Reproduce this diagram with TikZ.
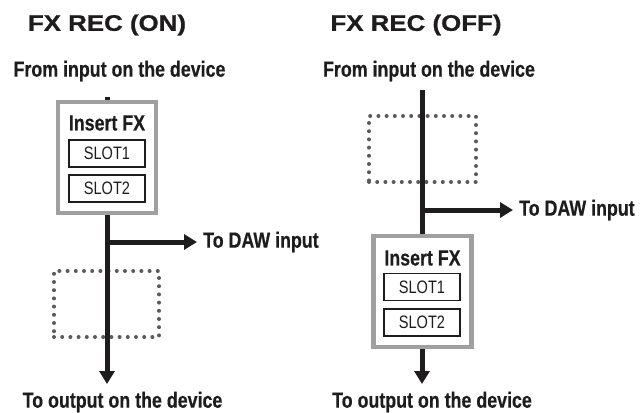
\documentclass[tikz,border=0pt]{standalone}
\usepackage{xcolor}
\usepackage{fontspec}
\usepackage{tikz}
\usetikzlibrary{arrows.meta,positioning}
\setmainfont{Liberation Sans}
\newfontfamily\narrowfont[FakeStretch=0.81,BoldFeatures={FakeBold=0.4}]{Liberation Sans}
\newfontfamily\widefont[FakeStretch=1.15,BoldFeatures={FakeBold=0.8}]{Liberation Sans}
\definecolor{inkBlk}  {RGB}{ 30,  28,  29}
\definecolor{boxGray} {RGB}{160, 160, 160}
\definecolor{dotGray} {RGB}{ 90,  90,  90}

\begin{document}
\begin{tikzpicture}[x=1pt,y=-1pt,
        ttl/.style={font=\widefont\bfseries\fontsize{22.5}{24}\selectfont,text=inkBlk,inner sep=0pt},
        lbl/.style={font=\narrowfont\bfseries\fontsize{22}{24}\selectfont,text=inkBlk,inner sep=0pt},
        fxbox/.style={draw=boxGray,fill=white,line width=4.5pt,
                      minimum width=98pt,minimum height=111pt,inner sep=0pt},
        slotbox/.style={draw=inkBlk,fill=white,line width=1.3pt,minimum width=76pt,minimum height=27pt,
                        inner sep=0pt,font=\narrowfont\fontsize{18}{19}\selectfont,text=inkBlk},
        gap/.style={draw=dotGray,line width=4pt,line cap=round,dash pattern=on 0pt off 8.2pt,
                    minimum width=105pt,minimum height=66pt,inner sep=0pt},
        sig/.style={draw=inkBlk,line width=5pt},
        sigarr/.style={sig,-{Triangle[length=13pt,width=15pt]}}]

        \useasboundingbox (0,0) rectangle (642,412);

        % FX REC (ON)
        \node[ttl] (tA) at (107,25) {FX REC (ON)};
        \node[lbl] (inA) at (119.5,71) {From input on the device};
        \coordinate (topA) at (107,97);
        \node[fxbox] (insA) at (107,157.5) {};
        \node[lbl] (fxA) at (107,123) {Insert FX};
        \node[slotbox] (s1A) at (107,153.5) {SLOT1};
        \node[slotbox] (s2A) at (107,188.5) {SLOT2};
        \node[gap] (gA) at (106.5,304) {};
        \coordinate (brA) at (107,242);
        \coordinate (endA) at (107,384);
        \node[lbl,anchor=west] (dawA) at (203,242) {To DAW input};
        \node[lbl] (outA) at (122.5,402) {To output on the device};

        \draw[sig] (topA) -- (insA.north);
        \draw[sigarr] (insA.south) -- (endA);
        \draw[sigarr] (brA) -- ([xshift=-6pt]dawA.west);

        % FX REC (OFF)
        \node[ttl] (tB) at (416,25) {FX REC (OFF)};
        \node[lbl] (inB) at (429,71) {From input on the device};
        \coordinate (topB) at (422,90);
        \node[gap,minimum width=107pt] (gB) at (422.5,149) {};
        \node[fxbox] (insB) at (422.5,291.5) {};
        \node[lbl] (fxB) at (422.5,258) {Insert FX};
        \node[slotbox] (s1B) at (422,287) {SLOT1};
        \node[slotbox] (s2B) at (422,322.5) {SLOT2};
        \coordinate (brB) at (422,210);
        \coordinate (endB) at (422,384);
        \node[lbl,anchor=west] (dawB) at (519,210) {To DAW input};
        \node[lbl] (outB) at (432,402) {To output on the device};

        \draw[sig] (topB) -- (topB |- insB.north);
        \draw[sigarr] (topB |- insB.south) -- (endB);
        \draw[sigarr] (brB) -- ([xshift=-6pt]dawB.west);
\end{tikzpicture}
\end{document}
